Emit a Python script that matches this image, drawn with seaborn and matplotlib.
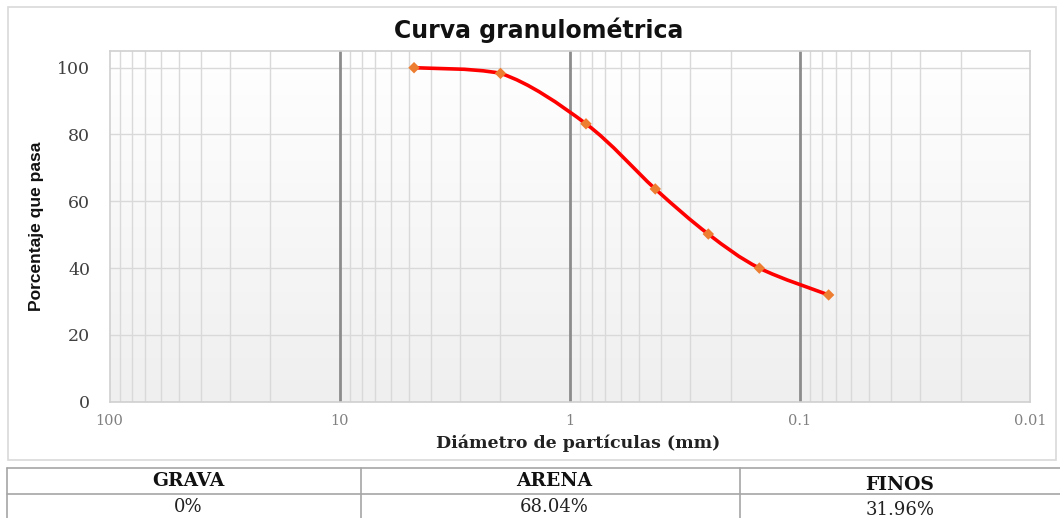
import numpy as np
import pandas as pd
import matplotlib
matplotlib.use("Agg")
import matplotlib.pyplot as plt
import seaborn as sns
from matplotlib.path import Path
from matplotlib.patches import PathPatch, Rectangle
from matplotlib.lines import Line2D
from matplotlib.ticker import FixedLocator, LogLocator, NullFormatter

# ---- data ----
diametro_mm = [4.75, 2.0, 0.85, 0.425, 0.25, 0.15, 0.075]
porcentaje_pasa = [100.0, 98.3, 83.2, 63.7, 50.2, 40.0, 31.96]
x_ticks = [100, 10, 1, 0.1, 0.01]
x_tick_labels = ["100", "10", "1", "0.1", "0.01"]
y_ticks = [0, 20, 40, 60, 80, 100]
tabla_encabezado = ["GRAVA", "ARENA", "FINOS"]
tabla_valores = ["0%", "68.04%", "31.96%"]

titulo = "Curva granulométrica"
x_label = "Diámetro de partículas (mm)"
y_label = "Porcentaje que pasa"

df = pd.DataFrame({"d": diametro_mm, "p": porcentaje_pasa})

sns.set_theme(style="white")
plt.rcParams["font.family"] = ["DejaVu Sans"]

W, H = 1060, 518
fig = plt.figure(figsize=(W / 100, H / 100), dpi=100)
fig.patch.set_facecolor("white")

def fx(px):
    return px / W

def fy(py):
    return 1 - py / H

ax_l, ax_r, ax_t, ax_b = 109.5, 1030, 51, 401.7
ax = fig.add_axes([fx(ax_l), fy(ax_b), fx(ax_r - ax_l), (ax_b - ax_t) / H])

# gradient background
grad = np.linspace(0, 1, 256).reshape(-1, 1)
ax.imshow(grad, extent=[0, 1, 0, 1], transform=ax.transAxes, aspect="auto",
          cmap=matplotlib.colors.LinearSegmentedColormap.from_list("g", ["#efefef", "#ffffff"]),
          origin="lower", zorder=0)

ax.set_xscale("log")
ax.set_xlim(100, 0.01)
ax.set_ylim(0, 105)

# grid lines
ax.xaxis.set_major_locator(FixedLocator(x_ticks))
ax.set_xticklabels(x_tick_labels)
ax.xaxis.set_minor_locator(LogLocator(base=10, subs=np.arange(2, 10)))
ax.xaxis.set_minor_formatter(NullFormatter())
ax.set_yticks(y_ticks)
ax.grid(False)
ax.grid(which="minor", axis="x", color="#d9d9d9", lw=1.0, zorder=1)
ax.grid(which="major", axis="y", color="#d9d9d9", lw=1.0, zorder=1)
for xv in [10, 1, 0.1]:
    ax.axvline(xv, color="#8c8c8c", lw=2.0, zorder=1.5)

for s in ax.spines.values():
    s.set_color("#d0d0d0")
    s.set_linewidth(1.2)

ax.tick_params(axis="both", which="both", length=0)
ax.tick_params(axis="y", pad=14, labelsize=12.5, labelcolor="#404040")
ax.tick_params(axis="x", pad=9, labelsize=10.5, labelcolor="#808080")
for lab in ax.get_yticklabels() + ax.get_xticklabels():
    lab.set_family(["DejaVu Serif"])

# smooth curve (Excel-like smoothed line, Catmull-Rom Bezier in display-linear space)
u = np.log10(np.array(diametro_mm))
v = np.array(porcentaje_pasa)
P = np.column_stack([u, v])
n = len(P)
verts = [P[0]]
codes = [Path.MOVETO]
for i in range(n - 1):
    p0 = P[i - 1] if i > 0 else P[i]
    p1 = P[i]
    p2 = P[i + 1]
    p3 = P[i + 2] if i + 2 < n else P[i + 1]
    c1 = p1 + (p2 - p0) / 6.0
    c2 = p2 - (p3 - p1) / 6.0
    lo, hi = min(p1[1], p2[1]), max(p1[1], p2[1])
    c1[1] = np.clip(c1[1], lo, hi)
    c2[1] = np.clip(c2[1], lo, hi)
    verts += [c1, c2, p2]
    codes += [Path.CURVE4] * 3
verts = np.array(verts)
verts[:, 0] = 10 ** verts[:, 0]
patch = PathPatch(Path(verts, codes), facecolor="none", edgecolor="#ff0000", lw=2.6,
                  zorder=3, capstyle="round", joinstyle="round")
ax.add_patch(patch)

sns.scatterplot(data=df, x="d", y="p", marker="D", s=34, color="#ed7d31",
                edgecolor="none", zorder=4, ax=ax, legend=False)

ax.set_xlabel(x_label, family=["DejaVu Serif"], fontweight="bold", fontsize=12.5,
              color="#222222")
ax.xaxis.set_label_coords((578 - ax_l) / (ax_r - ax_l), (ax_b - 443) / (ax_b - ax_t))
ax.xaxis.label.set_va("center")
ax.set_ylabel(y_label, family=["Liberation Sans Narrow", "Liberation Sans"],
              fontweight="bold", fontsize=12.5, color="#111111")
ax.yaxis.set_label_coords((37 - ax_l) / (ax_r - ax_l), (ax_b - 226) / (ax_b - ax_t))
ax.yaxis.label.set_va("center")

fig.text(fx(539), fy(30), titulo, ha="center", va="center", fontsize=17,
         fontweight="bold", color="#111111", family=["DejaVu Sans"])

# chart frame
fig.add_artist(Rectangle((fx(8), fy(460)), fx(1056 - 8), (460 - 7) / H,
                         transform=fig.transFigure, fill=False, edgecolor="#d9d9d9", lw=1.2))

# table
tc = "#a6a6a6"
fig.add_artist(Line2D([fx(7), 1], [fy(468), fy(468)], transform=fig.transFigure, color=tc, lw=1.2))
fig.add_artist(Line2D([fx(7), 1], [fy(494), fy(494)], transform=fig.transFigure, color=tc, lw=1.2))
for xv in [7, 361, 740]:
    fig.add_artist(Line2D([fx(xv), fx(xv)], [fy(468), 0], transform=fig.transFigure, color=tc, lw=1.2))

hx = [188, 554, 900]
hy = [481, 481, 485]
vy = [507, 507, 510]
for i in range(3):
    fig.text(fx(hx[i]), fy(hy[i]), tabla_encabezado[i], ha="center", va="center",
             fontsize=13.5, fontweight="bold", family=["DejaVu Serif"], color="#111111")
    fig.text(fx(hx[i]), fy(vy[i]), tabla_valores[i], ha="center", va="center",
             fontsize=13, family=["DejaVu Serif"], color="#222222")

fig.savefig("out.png", dpi=100, facecolor="white")
